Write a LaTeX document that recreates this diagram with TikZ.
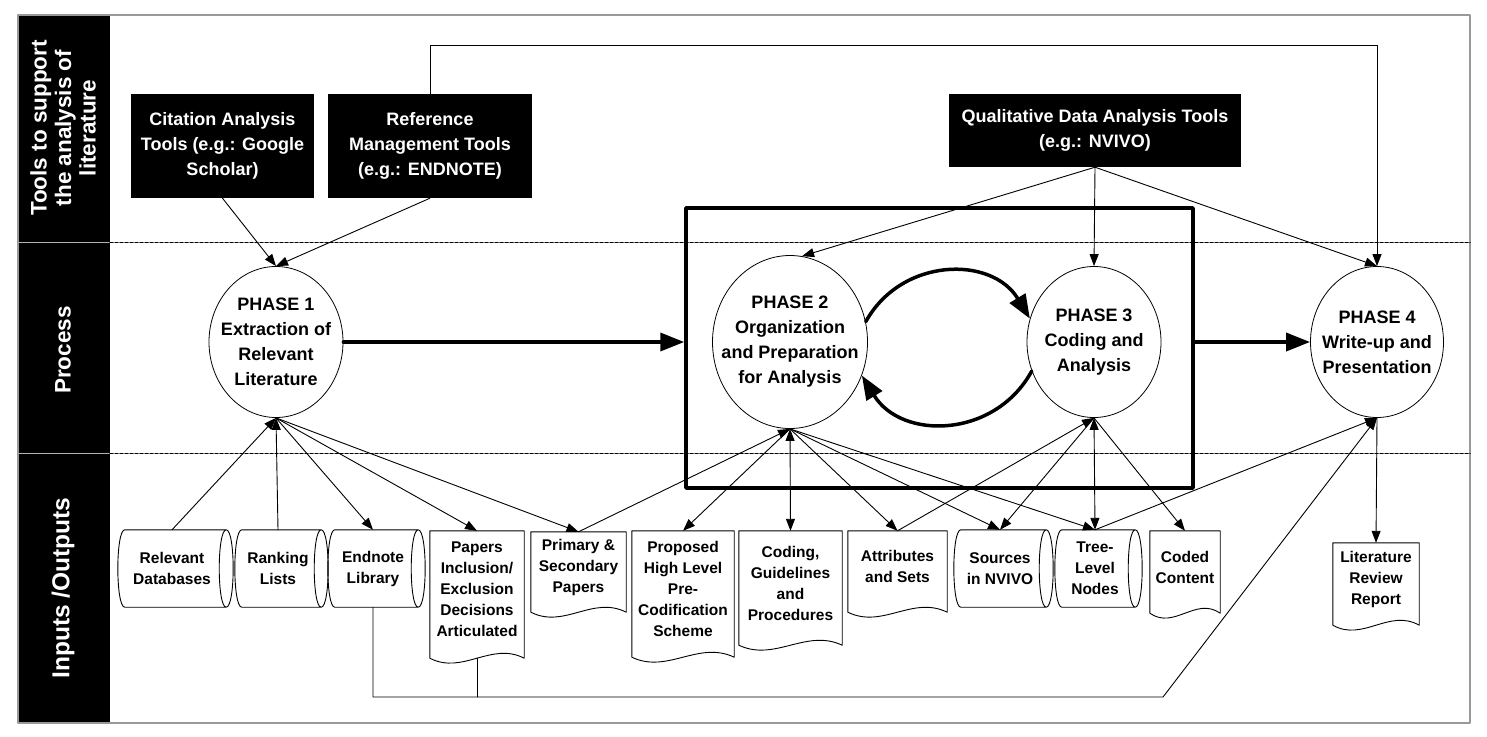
\documentclass[tikz,border=0pt]{standalone}
\usepackage{fontspec}
\setmainfont{Liberation Sans}
\usetikzlibrary{arrows.meta,shapes.geometric,calc}
\begin{document}
\begin{tikzpicture}[x=1pt,y=-1pt,font=\bfseries,line join=round,line cap=round,
 >={Triangle[length=12pt,width=9pt]},
 toolbox/.style={fill=black,text=white,align=center,inner sep=2pt,font=\bfseries\fontsize{18}{25}\selectfont},
 phasenode/.style={draw,ellipse,line width=0.8pt,inner sep=0pt},
 phasetext/.style={align=center,inner sep=0pt,font=\bfseries\fontsize{18}{25}\selectfont},
 storenode/.style={align=center,inner sep=0pt,minimum height=77pt,font=\bfseries\fontsize{15.5}{21}\selectfont},
 docnode/.style={align=center,inner sep=0pt,font=\bfseries\fontsize{15.5}{21}\selectfont},
 bandlabel/.style={rotate=90,text=white,align=center,font=\bfseries\fontsize{22.5}{24.5}\selectfont},
 thinlink/.style={line width=0.9pt},
 heavyarrow/.style={line width=3.5pt,-{Triangle[length=24pt,width=18pt]}},
 lane/.style={dash pattern=on 3pt off 2pt,line width=1.5pt}]
 \useasboundingbox (0,0) rectangle (1487,736);
 \fill (18,15) rectangle (110,723);
 \draw[gray!60,line width=1.5pt] (18,242.5)--(110,242.5) (18,453.5)--(110,453.5);
 \draw[gray!80,line width=1.2pt] (18,15) rectangle (1470,723);
 \draw[lane] (110,242.5)--(1470,242.5) (110,453.5)--(1470,453.5);
 \node[bandlabel] (bt) at (63,128) {Tools to support\\the analysis of\\literature};
 \node[bandlabel] (bp) at (63,350) {Process};
 \node[bandlabel,font=\bfseries\fontsize{24.5}{26}\selectfont] (bio) at (63,588) {Inputs /Outputs};
 \node[toolbox,minimum width=183pt,minimum height=104pt] (cit) at (222.5,146) {Citation Analysis\\Tools (e.g.: Google\\Scholar)};
 \node[toolbox,minimum width=204pt,minimum height=104pt] (ref) at (430,146) {Reference\\Management Tools\\(e.g.: ENDNOTE)};
 \node[toolbox,minimum width=292pt,minimum height=73pt] (qual) at (1095,130.5) {Qualitative Data Analysis Tools\\(e.g.: NVIVO)};
 \node[draw,line width=3.5pt,minimum width=507pt,minimum height=280pt] (phbox) at (939.5,348) {};
 \node[phasenode,minimum width=134pt,minimum height=151pt,label={[phasetext]center:PHASE 1\\Extraction of\\Relevant\\Literature}] (p1) at (276,342) {};
 \node[phasenode,minimum width=155pt,minimum height=173pt,label={[phasetext]center:PHASE 2\\Organization\\and Preparation\\for Analysis}] (p2) at (790,342) {};
 \node[phasenode,minimum width=134pt,minimum height=151pt,label={[phasetext]center:PHASE 3\\Coding and\\Analysis}] (p3) at (1094,342) {};
 \node[phasenode,minimum width=133pt,minimum height=151pt,label={[phasetext]center:PHASE 4\\Write-up and\\Presentation}] (p4) at (1377,342) {};
 \path
 (172,568.5) node[storenode,minimum width=108pt] (rdb) {Relevant\\Databases}
 (278,568.5) node[storenode,minimum width=86pt] (rank) {Ranking\\Lists}
 (373,568.5) node[storenode,minimum width=90pt] (endn) {Endnote\\Library}
 (1000,568.5) node[storenode,minimum width=92pt] (srcs) {Sources\\in NVIVO}
 (1095,568.5) node[storenode,minimum width=80pt] (tree) {Tree-\\Level\\Nodes};
 \path
 (477,589.5) node[docnode,minimum width=94pt,minimum height=117pt] (papers) {Papers\\Inclusion/\\Exclusion\\Decisions\\Articulated}
 (578.5,567) node[docnode,minimum width=95pt,minimum height=70pt] (prim) {Primary \&\\Secondary\\Papers}
 (683,589) node[docnode,minimum width=102pt,minimum height=116pt] (prop) {Proposed\\High Level\\Pre-\\Codification\\Scheme}
 (790.5,583) node[docnode,minimum width=103pt,minimum height=104pt] (codg) {Coding,\\Guidelines\\and\\Procedures}
 (897.5,566.5) node[docnode,minimum width=99pt,minimum height=71pt] (attr) {Attributes\\and Sets}
 (1185,567) node[docnode,minimum width=70pt,minimum height=72pt] (coded) {Coded\\Content}
 (1376,579) node[docnode,minimum width=86pt,minimum height=72pt] (litrev) {Literature\\Review\\Report};
 \foreach \n in {rdb,rank,endn,srcs,tree}
 \draw[thinlink] ([xshift=7pt]\n.north west) -- (\n.north east)
 .. controls ([xshift=9.3pt]\n.north east) and ([xshift=9.3pt]\n.south east) .. (\n.south east)
 -- ([xshift=7pt]\n.south west)
 .. controls ([xshift=-2.3pt]\n.south west) and ([xshift=-2.3pt]\n.north west) .. cycle
 (\n.north east) .. controls ([xshift=-9.3pt]\n.north east) and ([xshift=-9.3pt]\n.south east) .. (\n.south east);
 \foreach \n in {papers,prim,prop,codg,attr,coded,litrev}
 \draw[thinlink] ($(\n.south west)+(0,10)$) -- (\n.north west) -- (\n.north east) -- ($(\n.south east)+(0,10)$)
 .. controls ($(\n.south west)!0.65!(\n.south east)+(0,-7)$) and ($(\n.south west)!0.35!(\n.south east)+(0,27)$) .. ($(\n.south west)+(0,10)$) -- cycle;
 \draw[thinlink,->] (cit.south) -- (p1.north);
 \draw[thinlink,->] (ref.south) -- (p1.north);
 \coordinate (topln) at (0,45);
 \draw[thinlink,->] (ref.north) |- (topln -| p4.north) -- (p4.north);
 \draw[thinlink,->] (qual.south) -- (p2.82);
 \foreach \t in {p3,p4} \draw[thinlink,->] (qual.south) -- (\t.north);
 \draw[heavyarrow] (p1.east) -- (p1.east -| phbox.west);
 \draw[heavyarrow] (p4.west -| phbox.east) -- (p4.west);
 \draw[heavyarrow] (p2.15) to[bend left=60,looseness=1.15] (p3.160);
 \draw[heavyarrow] (p3.205) to[bend left=60,looseness=1.15] (p2.-25);
 \foreach \s in {rdb,rank} \draw[thinlink,->] (\s.north) -- (p1.south);
 \foreach \t in {endn,papers,prim} \draw[thinlink,->] (p1.south) -- (\t.north);
 \draw[thinlink,->] (prim.north) -- (p2.south);
 \draw[thinlink,<->] (p2.south) -- (codg.north);
 \foreach \t in {prop,attr,srcs,tree} \draw[thinlink,->] (p2.south) -- (\t.north);
 \draw[thinlink,->] (attr.north) -- (p3.south);
 \draw[thinlink,<->] (p3.south) -- (tree.north);
 \foreach \t in {srcs,coded} \draw[thinlink,->] (p3.south) -- (\t.north);
 \draw[thinlink,->] (tree.north) -- (p4.south);
 \draw[thinlink,->] (p4.south) -- (litrev.north);
 \coordinate (botbend) at (1163,697);
 \coordinate (papbot) at ($(papers.south)+(0,10)$);
 \draw[thinlink,->] (endn.south) |- (botbend) -- (p4.south);
 \draw[thinlink] (papbot) -- (papbot |- botbend);
\end{tikzpicture}
\end{document}
